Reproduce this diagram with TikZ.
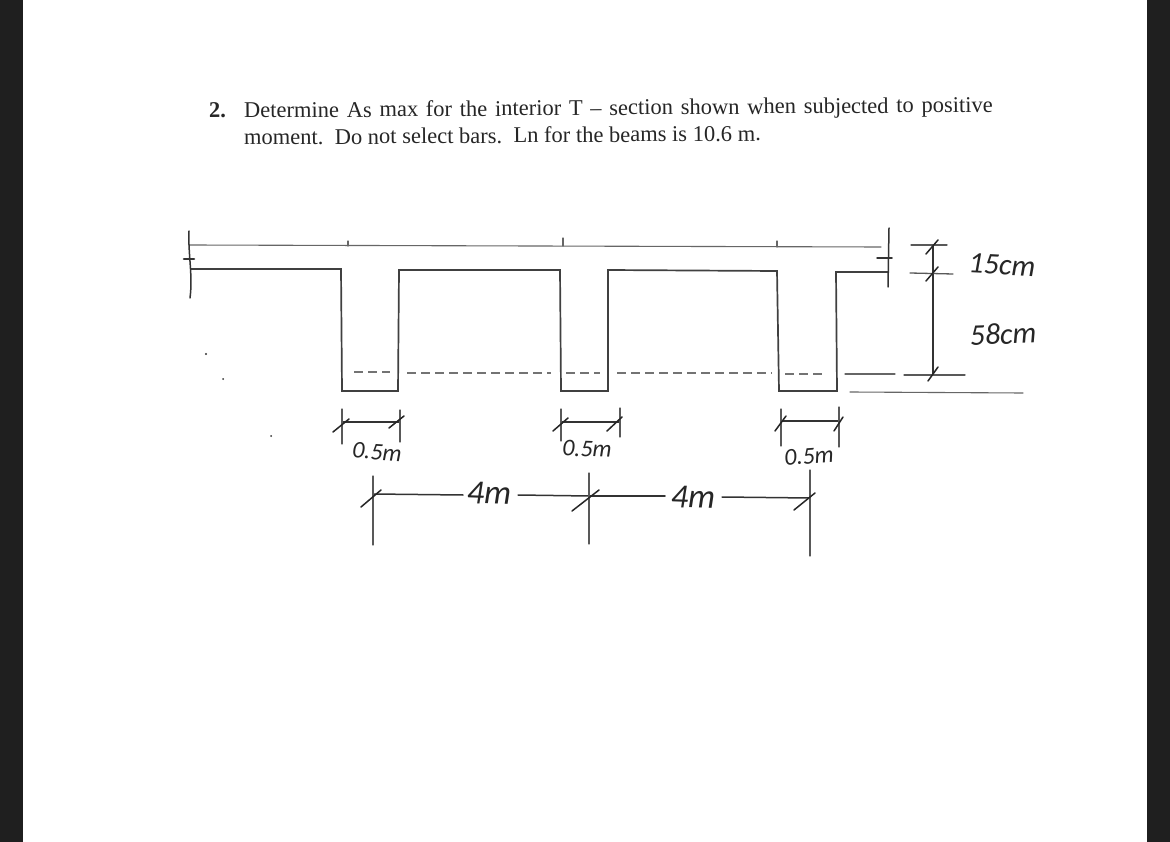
\documentclass[tikz,border=0pt]{standalone}
\usepackage{fontspec}
\setmainfont{Liberation Serif}
\newfontfamily\handfont[ItalicFont=* Italic]{Carlito}
\begin{document}
\begin{tikzpicture}[x=1pt,y=-1pt,
  sketch/.style={draw=black!75,line width=1.7pt,line cap=round,line join=miter},
  thinline/.style={draw=black!60,line width=1.1pt,line cap=round},
  dimline/.style={draw=black!80,line width=1.5pt,line cap=round},
  extline/.style={draw=black!65,line width=1.3pt,line cap=round},
  slash/.style={draw=black!85,line width=1.5pt,line cap=round},
  hidden/.style={draw=black!55,line width=1.2pt,dash pattern=on 9pt off 5pt},
  speck/.style={fill=black!80,draw=none},
  body/.style={anchor=base west,inner sep=0pt,rotate=.45,text=black!85},
  bodyfont/.style={font=\fontsize{22.5}{26}\selectfont},
  hand/.style={inner sep=0pt,text=black!85}]
\useasboundingbox (0,0) rectangle (1170,842);
\fill[white] (0,0) rectangle (1170,842);
\fill[black!88] (0,0) rectangle (23,842);
\fill[black!88] (1147,0) rectangle (1170,842);
% text
\node[body,font=\bfseries\fontsize{22.5}{26}\selectfont] (qnum) at (209,118) {2.};
\node[body,bodyfont] (line1) at (244,118) {\spaceskip=7.7pt Determine As max for the interior T – section shown when subjected to positive};
\node[body,bodyfont] (line2) at (244,145) {moment.\ \ Do not select bars.\ \ Ln for the beams is 10.6 m.};
% outline coordinates
\coordinate (sl) at (189,245); \coordinate (sr) at (881,247);
\draw[thinline] (sl) -- (sr);
\coordinate (a0) at (191,269);
\coordinate (a1) at (341,269); \coordinate (a2) at (342,391); \coordinate (a3) at (398,391); \coordinate (a4) at (399,270);
\coordinate (b1) at (560,270); \coordinate (b2) at (561,391); \coordinate (b3) at (608,391);
\coordinate (b4) at (608,270);
\coordinate (c1) at (777,271); \coordinate (c2) at (779,391); \coordinate (c3) at (837,391); \coordinate (c4) at (836,272); \coordinate (c5) at (888,272);
\draw[sketch] (a0) -- (a1) -- (a2) -- (a3) -- (a4) -- (b1) -- (b2) -- (b3) -- (b4) -- (c1) -- (c2) -- (c3) -- (c4) -- (c5);
% slab marks
\coordinate (m1a) at (348,241); \coordinate (m1b) at (348,246); \draw[thinline] (m1a) -- (m1b);
\coordinate (m2a) at (563,238); \coordinate (m2b) at (563,246); \draw[thinline] (m2a) -- (m2b);
\coordinate (m3a) at (777,241); \coordinate (m3b) at (777,247); \draw[thinline] (m3a) -- (m3b);
% left break
\coordinate (la) at (189,231); \coordinate (lb) at (190,298); \coordinate (lc) at (184,259); \coordinate (ld) at (194,259);
\draw[dimline] (la) .. controls (188,255) and (193,275) .. (lb);
\draw[dimline,line width=2.6pt] (lc) -- (ld);
% right break
\coordinate (ra) at (889,228); \coordinate (rb) at (888,287); \coordinate (rc) at (877,258); \coordinate (rd) at (892,258);
\draw[dimline] (ra) -- (rb); \draw[dimline] (rc) -- (rd);
% hidden line
\coordinate (h1a) at (354,372); \coordinate (h1b) at (390,372);
\coordinate (h2a) at (407,373); \coordinate (h2b) at (551,373);
\coordinate (h3a) at (566,373); \coordinate (h3b) at (600,373);
\coordinate (h4a) at (617,373); \coordinate (h4b) at (772,373);
\coordinate (h5a) at (785,374); \coordinate (h5b) at (826,374);
\coordinate (h6a) at (845,374); \coordinate (h6b) at (895,374);
\coordinate (h7a) at (904,375);
\draw[hidden] (h1a) -- (h1b); \draw[hidden] (h2a) -- (h2b); \draw[hidden] (h3a) -- (h3b);
\draw[hidden] (h4a) -- (h4b); \draw[hidden] (h5a) -- (h5b);
\draw[thinline] (h6a) -- (h6b);
% vertical dimension
\coordinate (vt) at (933,245); \coordinate (vb) at (933,375);
\coordinate (e1a) at (911,245); \coordinate (e1b) at (947,245);
\coordinate (e2a) at (910,273); \coordinate (e2b) at (953,274);
\coordinate (e3b) at (965,375); \coordinate (bla) at (850,392); \coordinate (blb) at (1023,393);
\draw[dimline] (vt) -- (vb);
\draw[extline] (e1a) -- (e1b); \draw[extline] (e2a) -- (e2b); \draw[extline] (h7a) -- (e3b); \draw[thinline] (bla) -- (blb);
\draw[slash] (926,254) -- (938,240); \draw[slash] (926,281) -- (938,267); \draw[slash] (928,381) -- (938,367);
% 0.5m dims
\coordinate (d1a) at (342,422); \coordinate (d1b) at (400,422);
\coordinate (d2a) at (561,422); \coordinate (d2b) at (619,422);
\coordinate (d3a) at (781,421); \coordinate (d3b) at (839,421);
\draw[dimline] (d1a) -- (d1b); \draw[dimline] (d2a) -- (d2b); \draw[dimline] (d3a) -- (d3b);
\draw[extline] (342,409) -- (342,444); \draw[extline] (400,410) -- (400,442);
\draw[extline] (561,409) -- (561,441); \draw[extline] (620,408) -- (620,437);
\draw[extline] (781,409) -- (781,446); \draw[extline] (839,407) -- (839,447);
\draw[slash] (333,432) -- (349,419); \draw[slash] (389,428) -- (404,416);
\draw[slash] (553,431) -- (568,418); \draw[slash] (607,431) -- (622,417);
\draw[slash] (775,431) -- (786,416); \draw[slash] (834,431) -- (843,417);
% 4m dims
\coordinate (f1) at (373,494); \coordinate (f1n) at (463,495); \coordinate (f2n) at (518,495);
\coordinate (f2) at (589,496); \coordinate (f2m) at (665,496); \coordinate (f3m) at (722,497); \coordinate (f3) at (810,498);
\draw[dimline] (f1) -- (f1n); \draw[dimline] (f2n) -- (f2); \draw[dimline] (f2) -- (f2m); \draw[dimline] (f3m) -- (f3);
\draw[extline] (373,476) -- (373,545); \draw[extline] (589,473) -- (589,544); \draw[extline] (810,470) -- (810,556);
\draw[slash] (361,507) -- (381,490); \draw[slash] (572,511) -- (599,490); \draw[slash] (794,510) -- (815,493);
% specks
\fill[speck] (206,354) circle (1.2pt); \fill[speck] (271,436) circle (1pt); \fill[speck] (223,379) circle (1pt);
% labels
\node[hand,font=\handfont\itshape\fontsize{24}{26}\selectfont,rotate=-4] (l1) at (377,452) {0.5m};
\node[hand,font=\handfont\itshape\fontsize{24}{26}\selectfont,rotate=-2] (l2) at (587,449) {0.5m};
\node[hand,font=\handfont\itshape\fontsize{24}{26}\selectfont,rotate=4] (l3) at (809,456) {0.5m};
\node[hand,font=\handfont\itshape\fontsize{34}{36}\selectfont,rotate=-2] (l4) at (489,493) {4m};
\node[hand,font=\handfont\itshape\fontsize{34}{36}\selectfont,rotate=-2] (l5) at (693,497) {4m};
\node[hand,font=\handfont\itshape\fontsize{30}{32}\selectfont,rotate=-3] (l6) at (1002,265) {15cm};
\node[hand,font=\handfont\itshape\fontsize{30}{32}\selectfont,rotate=2] (l7) at (1003,334) {58cm};
\end{tikzpicture}
\end{document}
